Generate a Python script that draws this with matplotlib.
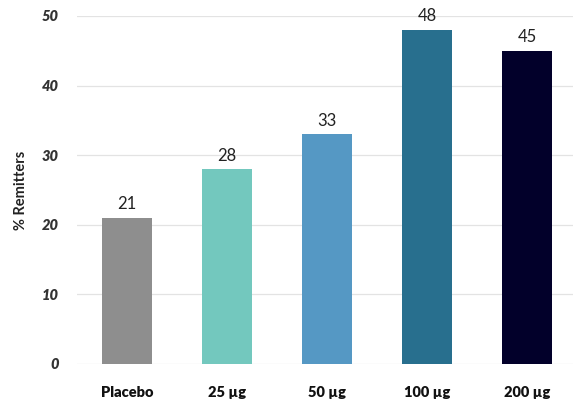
import matplotlib
matplotlib.use("Agg")
import matplotlib.pyplot as plt

categories = ["Placebo", "25 µg", "50 µg", "100 µg", "200 µg"]
remitters = [21, 28, 33, 48, 45]
colors = ["#8e8e8e", "#73c8be", "#5598c4", "#286f8e", "#02002a"]
yticks = [0, 10, 20, 30, 40, 50]

plt.rcParams["font.family"] = ["Lato", "DejaVu Sans"]

fig = plt.figure(figsize=(5.73, 4.07), dpi=100)
ax = fig.add_axes([0.1344, 0.1057, 0.8656, 0.855])

x = range(len(categories))
bars = ax.bar(x, remitters, width=0.5, color=colors, zorder=2)
for xi, v in zip(x, remitters):
    ax.text(xi, v + 0.8, f"{v}", ha="center", va="bottom", fontsize=12,
            color="#222222", zorder=3)

ax.set_xlim(-0.5, 4.46)
ax.set_ylim(0, 50)
ax.set_yticks(yticks)
ax.set_yticklabels([str(t) for t in yticks], fontweight="heavy", fontstyle="italic",
                   fontsize=10.5, color="#333333")
ax.set_xticks(list(x))
ax.set_xticklabels(categories, fontweight="heavy", fontsize=10.5, color="#111111")
ax.tick_params(axis="both", length=0)
ax.tick_params(axis="y", pad=13)
ax.tick_params(axis="x", pad=16)
ax.grid(axis="y", color="#e3e3e3", linewidth=0.9, zorder=0)
ax.set_axisbelow(True)
for s in ax.spines.values():
    s.set_visible(False)

ax.set_ylabel("% Remitters", fontsize=10.5, fontweight="bold", color="#222222", labelpad=10)

fig.savefig("out.png", dpi=100)
